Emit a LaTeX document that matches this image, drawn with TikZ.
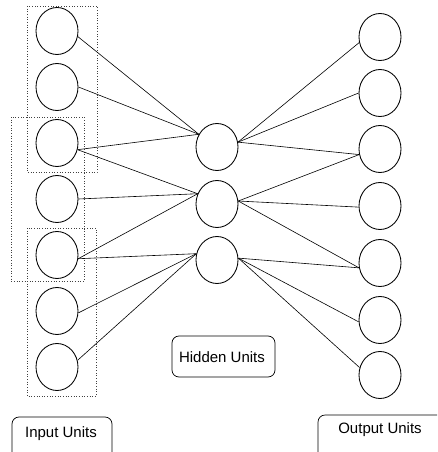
\documentclass[tikz,border=0pt]{standalone}
\usepackage{fontspec}
\setmainfont{Liberation Sans}
\usetikzlibrary{shapes.geometric}
\tikzset{
  unit/.style={draw=black, line width=0.85pt, ellipse, inner sep=0pt,
               minimum width=42pt, minimum height=47pt},
  link/.style={draw=black, line width=0.6pt},
  field/.style={draw=black!75, line width=0.65pt, dotted},
  tag/.style={draw=black, line width=0.7pt, rounded corners=7pt, inner sep=0pt},
  tagtext/.style={font=\fontsize{15}{18}\selectfont, inner sep=0pt}
}
\begin{document}
\begin{tikzpicture}[x=1pt, y=-1pt]
  \useasboundingbox (0,0) rectangle (437,452);
  \clip (0,0) rectangle (437,452);

  % receptive fields of the hidden units
  \draw[field] (27,6) rectangle (97,172);
  \draw[field] (11,117) rectangle (84,281);
  \draw[field] (27,228) rectangle (96,396);

  % input layer
  \foreach \i/\y in {1/31,2/87,3/143,4/199,5/255,6/311,7/367}
    \node[unit] (in\i) at (57,\y) {};

  % hidden layer
  \foreach \i/\y in {1/147,2/204,3/260}
    \node[unit] (h\i) at (217,\y) {};

  % output layer
  \foreach \i/\y in {1/37,2/93,3/149,4/206,5/263,6/320,7/375}
    \node[unit] (out\i) at (380,\y) {};

  % input -> hidden connections
  \draw[link] (in1.-15) -- (h1.145);
  \draw[link] (in2.east) -- (h1.145);
  \draw[link] (in3.-18) -- (h1.145);
  \draw[link] (in3.-18) -- (h2.152);
  \draw[link] (in4.east) -- (h2.152);
  \draw[link] (in5.-10) -- (h2.152);
  \draw[link] (in5.-10) -- (h3.163);
  \draw[link] (in6.-5) -- (h3.163);
  \draw[link] (in7.18) -- (h3.163);

  % hidden -> output connections
  \draw[link] (h1.13) -- (out1.195);
  \draw[link] (h1.13) -- (out2.180);
  \draw[link] (h1.13) -- (out3.195);
  \draw[link] (h2.8) -- (out3.195);
  \draw[link] (h2.8) -- (out4.183);
  \draw[link] (h2.8) -- (out5.193);
  \draw[link] (h3.5) -- (out5.193);
  \draw[link] (h3.5) -- (out6.185);
  \draw[link] (h3.5) -- (out7.160);

  % layer labels (the outer two run past the lower edge)
  \node[tag, minimum width=100pt, minimum height=44pt] (inlabel) at (62,439) {};
  \node[tagtext] (intext) at (61,434) {Input Units};
  \node[tag, minimum width=103pt, minimum height=41pt] (hidlabel) at (223.5,356.5) {};
  \node[tagtext] (hidtext) at (222,357) {Hidden Units};
  \node[tag, minimum width=127pt, minimum height=46pt] (outlabel) at (381.5,438) {};
  \node[tagtext] (outtext) at (380,430) {Output Units};
\end{tikzpicture}
\end{document}
